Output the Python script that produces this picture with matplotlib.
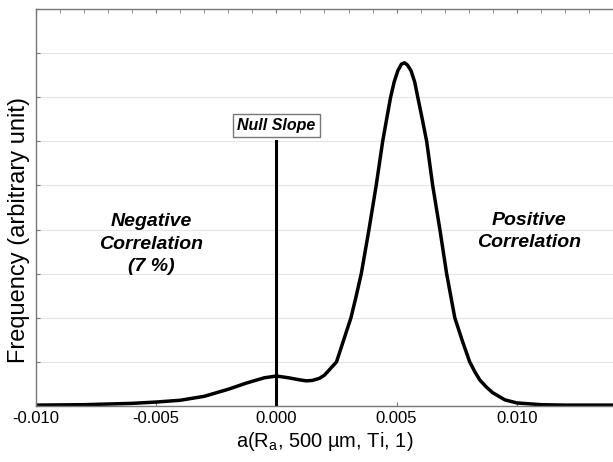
import matplotlib
matplotlib.use("Agg")
import matplotlib.pyplot as plt
from matplotlib.ticker import MultipleLocator

plt.rcParams['font.family'] = ['Liberation Sans', 'DejaVu Sans']

# slope values (x1e-3) and frequency
slope_e3 = [-10, -8, -6, -5, -4, -3, -2, -1.25, -0.5, 0, 0.5, 1.0, 1.25, 1.5,
            1.8, 2.0, 2.2, 2.5, 2.8, 3.1, 3.3, 3.53, 3.85, 4.15, 4.42, 4.6,
            4.75, 4.9, 5.05, 5.2, 5.33, 5.45, 5.6, 5.75, 5.88, 6.05, 6.25,
            6.5, 6.8, 7.08, 7.42, 7.75, 8.04, 8.25, 8.46, 8.75, 9.0, 9.5,
            10.0, 11, 12, 14]
freq = [0.02, 0.03, 0.06, 0.09, 0.13, 0.22, 0.38, 0.52, 0.64, 0.68, 0.64, 0.59,
        0.57, 0.58, 0.63, 0.7, 0.82, 1.0, 1.5, 2.0, 2.45, 3.0, 4.0, 5.0, 6.0,
        6.55, 7.0, 7.35, 7.6, 7.75, 7.78, 7.73, 7.6, 7.35, 7.0, 6.55, 6.0,
        5.0, 4.0, 3.0, 2.0, 1.45, 1.0, 0.78, 0.59, 0.42, 0.3, 0.14,
        0.07, 0.03, 0.02, 0.02]
slope = [v * 1e-3 for v in slope_e3]

null_height = 6.0
xticks = [-0.010, -0.005, 0.000, 0.005, 0.010]
xtick_labels = ['-0.010', '-0.005', '0.000', '0.005', '0.010']

fig = plt.figure(figsize=(6.13, 4.62), dpi=100)
ax = fig.add_axes([0.0587, 0.1212, 0.9413, 0.8593])

ax.plot(slope, freq, color='black', linewidth=2.5, solid_joinstyle='round')
ax.plot([0, 0], [0, null_height], color='black', linewidth=2.2)

ax.set_xlim(-0.010, 0.014)
ax.set_ylim(0, 9)
ax.set_xticks(xticks)
ax.set_xticklabels(xtick_labels, fontsize=12)
ax.xaxis.set_minor_locator(MultipleLocator(0.001))
ax.set_yticks(range(0, 10))
ax.set_yticklabels([])
ax.tick_params(which='major', direction='in', length=3, color='#777777',
               top=True, bottom=True, left=True, right=False)
ax.tick_params(which='minor', direction='in', length=3, color='#777777',
               top=True, bottom=False)
ax.grid(axis='y', color='#e6e6e6', linewidth=0.8)
ax.set_axisbelow(True)

for side in ['left', 'top', 'bottom']:
    ax.spines[side].set_color('#777777')
    ax.spines[side].set_linewidth(1.0)
ax.spines['right'].set_visible(False)

ax.set_xlabel('a(R$_\\mathregular{a}$, 500 µm, Ti, 1)', fontsize=14.5, labelpad=3)
ax.set_ylabel('Frequency (arbitrary unit)', fontsize=17)
ax.yaxis.set_label_coords(-0.011, 0.443)

ax.text(0, 6.35, 'Null Slope', ha='center', va='center', fontsize=11.5,
        fontweight='bold', style='italic',
        bbox=dict(boxstyle='square,pad=0.25', facecolor='white',
                  edgecolor='#777777', linewidth=1.0))
ax.text(-0.0052, 3.67, 'Negative\nCorrelation\n(7 %)', ha='center', va='center',
        fontsize=14, fontweight='bold', style='italic', linespacing=1.4)
ax.text(0.0105, 3.95, 'Positive\nCorrelation', ha='center', va='center',
        fontsize=14, fontweight='bold', style='italic', linespacing=1.4)

fig.savefig('out.png', dpi=100)
